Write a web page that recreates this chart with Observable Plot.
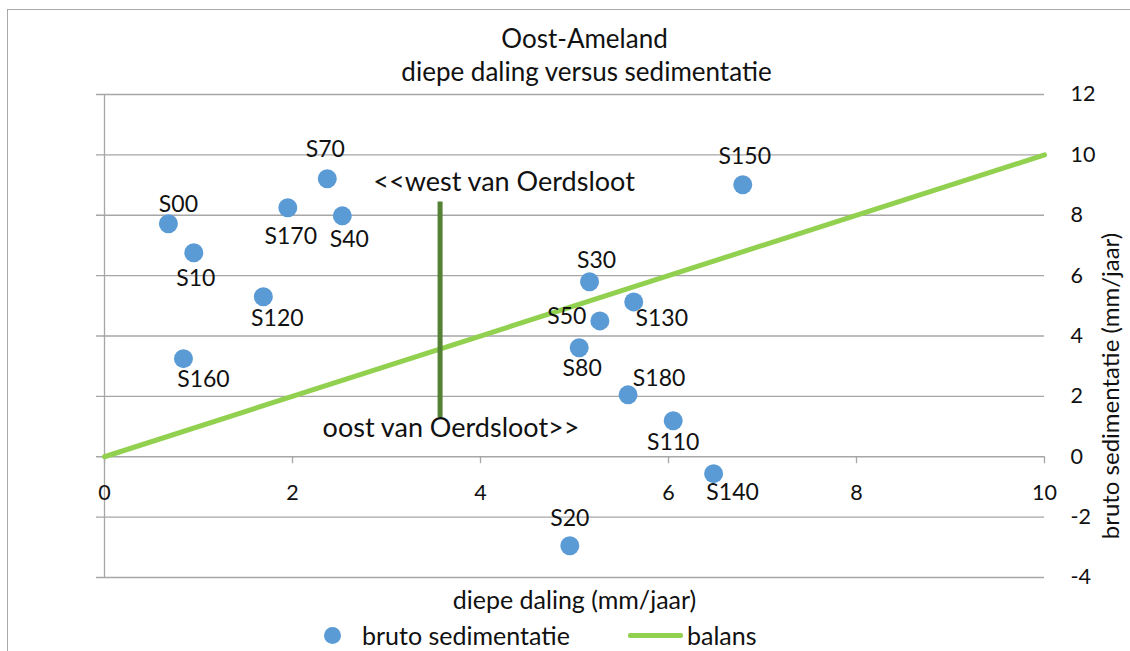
<!DOCTYPE html>
<html>
<head>
<meta charset="utf-8">
<script src="https://cdn.jsdelivr.net/npm/d3@7"></script>
<script src="https://cdn.jsdelivr.net/npm/@observablehq/plot@0.6"></script>
<style>
  html, body { margin: 0; padding: 0; background: #fff; }
  #wrap { position: relative; width: 1130px; height: 651px; overflow: hidden; font-family: Lato, "Open Sans", sans-serif; color: #111; }
  #border { position: absolute; left: 7px; top: 9px; width: 1200px; height: 800px; border: 1px solid #a9a9a9; box-sizing: border-box; }
  #chart { position: absolute; left: 0; top: 0; }
  #legend { position: absolute; left: 0; top: 620px; width: 1130px; height: 30px; font-size: 25px; }
  #legend .dot { position: absolute; left: 323.5px; top: 6.5px; width: 17px; height: 17px; border-radius: 50%; background: #5B9BD5; }
  #legend .line { position: absolute; left: 628px; top: 12.5px; width: 55px; height: 5px; background: #92D050; border-radius: 2px; }
  #legend .t1 { position: absolute; left: 362px; top: 0px; line-height: 30px; }
  #legend .t2 { position: absolute; left: 687px; top: 0px; line-height: 30px; }
</style>
</head>
<body>
<div id="wrap">
  <div id="border"></div>
  <div id="chart"></div>
  <div id="legend">
    <div class="dot"></div><div class="t1">bruto sedimentatie</div>
    <div class="line"></div><div class="t2">balans</div>
  </div>
</div>
<script>
// ---- data ----
const stations = ["S00","S10","S170","S70","S40","S120","S160","S150","S30","S130","S50","S80","S180","S110","S140","S20"];
const diepeDaling = [0.68, 0.95, 1.95, 2.37, 2.53, 1.69, 0.84, 6.79, 5.16, 5.63, 5.27, 5.05, 5.57, 6.05, 6.48, 4.95];
const brutoSedimentatie = [7.72, 6.76, 8.25, 9.21, 7.98, 5.30, 3.25, 9.01, 5.80, 5.13, 4.50, 3.61, 2.05, 1.19, -0.56, -2.95];
const balansX = [0, 10];
const balansY = [0, 10];
const oerdslootX = 3.57;
const oerdslootY = [1.30, 8.44];
const xTicks = [0, 2, 4, 6, 8, 10];
const yTicks = [-4, -2, 0, 2, 4, 6, 8, 10, 12];
const titleLines = ["Oost-Ameland", "diepe daling versus sedimentatie"];
const xTitle = "diepe daling (mm/jaar)";
const yTitle = "bruto sedimentatie (mm/jaar)";
const annotations = [
  {text: "<<west van Oerdsloot", x: 2.86, y: 9.10},
  {text: "oost van Oerdsloot>>", x: 2.32, y: 0.93}
];

// ---- layout (label offsets in px) ----
const labelOffset = {
  S00: [10, -20], S10: [2, 25], S170: [3, 28], S70: [-2, -30], S40: [7, 23],
  S120: [14, 21], S160: [20, 20], S150: [2, -29], S30: [7, -22], S130: [28, 16],
  S50: [-33, -5], S80: [3, 20], S180: [31, -17], S110: [0, 21], S140: [19, 18], S20: [0, -28]
};

const points = stations.map((s, i) => ({name: s, x: diepeDaling[i], y: brutoSedimentatie[i]}));
const balans = balansX.map((x, i) => ({x, y: balansY[i]}));

const grid = "#a6a6a6";
const ink = "#111";

const labelMarks = points.map(p => Plot.text([p], {
  x: "x", y: "y", text: "name",
  dx: labelOffset[p.name][0], dy: labelOffset[p.name][1] + 1,
  fontSize: 23, fill: ink, textAnchor: "middle", lineAnchor: "middle"
}));

const chart = Plot.plot({
  width: 1130,
  height: 651,
  marginLeft: 104,
  marginRight: 86,
  marginTop: 94,
  marginBottom: 74,
  style: {fontFamily: "Lato, 'Open Sans', sans-serif", background: "transparent", overflow: "visible"},
  x: {domain: [0, 10], axis: null},
  y: {domain: [-4, 12], axis: null},
  marks: [
    // gridlines with left tick stubs
    Plot.ruleY(yTicks, {y: d => d, stroke: grid, strokeWidth: 1.3, insetLeft: -8}),
    // vertical axis
    Plot.ruleX([0], {stroke: grid, strokeWidth: 1.3}),
    // x tick marks below the zero line
    Plot.ruleX(xTicks, {x: d => d, y1: 0, y2: 0, insetTop: 0, insetBottom: -7, stroke: grid, strokeWidth: 1.3}),
    // x tick labels
    Plot.text(xTicks, {x: d => d, y: 0, text: d => String(d), dy: 43, fontSize: 21.5, fill: ink, textAnchor: "middle", lineAnchor: "bottom"}),
    // y tick labels (right)
    Plot.text(yTicks, {y: d => d, frameAnchor: "right", text: d => String(d), dx: 26, fontSize: 21.5, fill: ink, textAnchor: "start", lineAnchor: "middle"}),
    // balans line
    Plot.line(balans, {x: "x", y: "y", stroke: "#92D050", strokeWidth: 5}),
    // Oerdsloot divider
    Plot.ruleX([oerdslootX], {x: d => d, y1: oerdslootY[0], y2: oerdslootY[1], stroke: "#548235", strokeWidth: 5}),
    // annotations
    Plot.text(annotations, {x: "x", y: "y", text: "text", fontSize: 27, fill: ink, textAnchor: "start", lineAnchor: "middle"}),
    // points
    Plot.dot(points, {x: "x", y: "y", r: 9.5, fill: "#5B9BD5", stroke: "none"}),
    ...labelMarks,
    // titles
    Plot.text([titleLines[0]], {frameAnchor: "top", text: d => d, dx: 10, dy: -47, fontSize: 26, fill: ink, textAnchor: "middle", lineAnchor: "bottom"}),
    Plot.text([titleLines[1]], {frameAnchor: "top", text: d => d, dx: 12, dy: -14, fontSize: 26, fill: ink, textAnchor: "middle", lineAnchor: "bottom"}),
    Plot.text([xTitle], {frameAnchor: "bottom", text: d => d, dy: 31, fontSize: 25, fill: ink, textAnchor: "middle", lineAnchor: "bottom"}),
    Plot.text([yTitle], {frameAnchor: "right", text: d => d, dx: 67, dy: 50, rotate: -90, fontSize: 24, fill: ink, textAnchor: "middle", lineAnchor: "middle"})
  ]
});
document.getElementById("chart").appendChild(chart);
</script>
</body>
</html>
